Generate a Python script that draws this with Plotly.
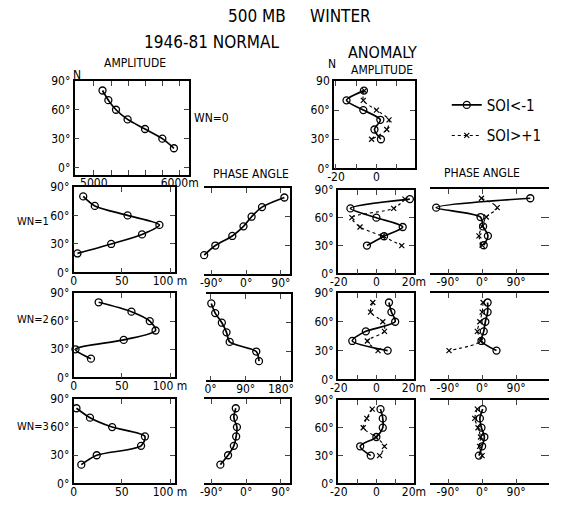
import plotly.graph_objects as go

W, H = 561, 507

# ---------------- data ----------------
lat = [80, 70, 60, 50, 40, 30, 20]
lat_a = [80, 70, 60, 50, 40, 30]

# 1946-81 normal
n0_amp = [5101, 5169, 5258, 5393, 5596, 5798, 5933]
n1_amp = [10, 22, 56, 89, 71, 39, 4]
n1_phase = [99, 41, 14, -7, -36, -80, -109]
n2_amp = [26, 60, 79, 85, 52, 2, 18]
n2_phase = [2, 12, 29, 41, 49, 117, 124]
n3_amp = [3, 17, 40, 74, 70, 24, 8]
n3_phase = [-27, -32, -24, -26, -32, -47, -67]

# anomaly  (neg: SOI<-1, pos: SOI>+1)
a0_amp_neg = [-6.2, -14.8, -6.5, 1.9, -1, 2.2]
a0_amp_pos = [-6, -6.5, 0, 6.2, 5.1, -2.4]
a1_amp_neg = [17.8, -13.8, 0, 14, 4.1, -5]
a1_amp_pos = [15.2, 9.2, -13, -8.7, 3.2, 13.5]
a1_phase_neg = [127.5, -121.6, -4.3, 2.5, 15.3, 4.2]
a1_phase_pos = [-1.8, 40, 11, 0, -8.5, 0]
a2_amp_neg = [6.7, 8, 10, -5.6, -12.8, 6]
a2_amp_pos = [-1.9, -3.1, 3.4, 4.3, -4.8, 0.9]
a2_phase_neg = [14.5, 14.5, 8.5, 4.2, -1.8, 38]
a2_phase_pos = [2.5, 0, -6, -12.7, -4.3, -87.7]
a3_amp_neg = [2.2, 3.4, 3.4, 0, -8.6, -3]
a3_amp_pos = [-2.2, -5.1, -7, -0.3, 4.3, 1.7]
a3_phase_neg = [1.5, -6, -1.8, 5.9, 0, -8.5]
a3_phase_pos = [-12.7, -19.6, -11, -4.3, -6.8, 0]

lat_ticks = [0, 30, 60, 90]
lat_labels = ["0°", "30°", "60°", "90°"]
lat_labels_a0 = ["0°", "30°", "60°", "90"]
amp_ticks = [0, 50, 100]
amp_labels = ["0", "50", "100 m"]
hgt_ticks = [5000, 5200, 5400, 5600, 5800, 6000]
hgt_labels = ["5000", "", "", "", "", "6000m"]
anom_ticks = [-20, -10, 0, 10, 20]
anom_labels = ["-20", "", "0", "", "20m"]
ph_ticks = [-90, 0, 90]
ph_labels = ["-90°", "0°", "90°"]
ph2_ticks = [0, 90, 180]
ph2_labels = ["0°", "90°", "180°"]

FONT = "Liberation Sans Narrow, DejaVu Sans Condensed, Liberation Sans, sans-serif"

fig = go.Figure()

# panel boxes in pixels: (left, right, top, bottom)
panels = [
    ("n0a", (69, 188, 76, 173), [4775, 6112], [-8, 90], "amp", hgt_ticks, hgt_labels, lat_labels),
    ("a0a", (338, 422, 76, 166), [-21, 19], [0, 90], "amp", anom_ticks, anom_labels, lat_labels_a0),
    ("n1a", (68, 173, 185, 273), [0, 105], [0, 90], "amp", amp_ticks, amp_labels, lat_labels),
    ("n1p", (203, 292, 186, 275), [-110, 112.5], [0, 90], "nph", ph_ticks, ph_labels, None),
    ("a1a", (342, 421, 188, 274), [-20.5, 20], [0, 90], "amp", anom_ticks, anom_labels, lat_labels),
    ("a1p", (438, 561, 187, 274), [-137, 177], [0, 90], "aph", ph_ticks, ph_labels, None),
    ("n2a", (68, 173, 294, 381), [0, 105], [0, 90], "amp", amp_ticks, amp_labels, lat_labels),
    ("n2p", (205, 293, 295, 384), [-12.3, 204.7], [0, 90], "nph", ph2_ticks, ph2_labels, None),
    ("a2a", (342, 421, 294, 383), [-20.5, 20], [0, 90], "amp", anom_ticks, anom_labels, lat_labels),
    ("a2p", (438, 561, 294, 383), [-137, 177], [0, 90], "aph", ph_ticks, ph_labels, None),
    ("n3a", (68, 173, 403, 490), [0, 105], [0, 90], "amp", amp_ticks, amp_labels, lat_labels),
    ("n3p", (203, 292, 403, 490), [-110, 112.5], [0, 90], "nph", ph_ticks, ph_labels, None),
    ("a3a", (342, 421, 404, 490), [-20.5, 20], [0, 90], "amp", anom_ticks, anom_labels, lat_labels),
    ("a3p", (438, 561, 404, 490), [-137, 177], [0, 90], "aph", ph_ticks, ph_labels, None),
]

axref = {}
for i, (name, box, xr, yr, kind, xt, xl, yl) in enumerate(panels):
    n = i + 1
    xa = "xaxis" if n == 1 else f"xaxis{n}"
    ya = "yaxis" if n == 1 else f"yaxis{n}"
    l, r, t, b = box
    xdom = [l / W, min(r / W, 1.0)]
    ydom = [(H - b) / H, (H - t) / H]
    xaxis = dict(domain=xdom, range=xr, anchor=f"y{n}" if n > 1 else "y",
                 tickvals=xt, ticktext=xl, ticks="inside", ticklen=5, tickwidth=1.3,
                 ticklabelstandoff=-4,
                 showline=True, linecolor="black", linewidth=1.6, mirror="ticks",
                 showgrid=False, zeroline=False,
                 tickfont=dict(size=12, color="black", family=FONT))
    if kind == "amp":
        yaxis = dict(domain=ydom, range=yr, anchor=f"x{n}" if n > 1 else "x",
                     tickvals=lat_ticks, ticktext=yl, ticks="inside", ticklen=5, tickwidth=1.3,
                     showline=True, linecolor="black", linewidth=1.6, mirror="ticks",
                     showgrid=False, zeroline=False,
                     tickfont=dict(size=12, color="black", family=FONT))
    elif kind == "nph":
        yaxis = dict(domain=ydom, range=yr, anchor=f"x{n}", side="right",
                     tickvals=[30, 60], ticks="inside", ticklen=5, tickwidth=1.3,
                     showticklabels=False,
                     showline=True, linecolor="black", linewidth=1.6, mirror=False,
                     showgrid=False, zeroline=False)
    else:
        yaxis = dict(domain=ydom, range=yr, anchor=f"x{n}", side="right",
                     tickvals=[30, 60], ticks="inside", ticklen=8, tickwidth=1.3,
                     showticklabels=False, showline=False,
                     showgrid=False, zeroline=False)
    fig.layout[xa] = xaxis
    fig.layout[ya] = yaxis
    axref[name] = ("x" if n == 1 else f"x{n}", "y" if n == 1 else f"y{n}")

LW = 1.7
circ = dict(symbol="circle-open", size=7, color="black", line=dict(width=1.3, color="black"))
xm = dict(symbol="x-thin", size=5, color="black", line=dict(width=1.2, color="black"))


def normal(name, xs):
    xa, ya = axref[name]
    fig.add_trace(go.Scatter(x=xs, y=lat, xaxis=xa, yaxis=ya, mode="lines+markers",
                             line=dict(color="black", width=LW, shape="spline", smoothing=0.8),
                             marker=circ, showlegend=False, cliponaxis=False))


def anomaly(name, neg, pos, legend=False):
    xa, ya = axref[name]
    fig.add_trace(go.Scatter(x=pos, y=lat_a, xaxis=xa, yaxis=ya, mode="lines+markers",
                             name="SOI>+1", legendgroup="b", legendrank=2,
                             line=dict(color="black", width=1.1, dash="dot", shape="spline", smoothing=0.8),
                             marker=xm, showlegend=legend, cliponaxis=False))
    fig.add_trace(go.Scatter(x=neg, y=lat_a, xaxis=xa, yaxis=ya, mode="lines+markers",
                             name="SOI<-1", legendgroup="a", legendrank=1,
                             line=dict(color="black", width=LW, shape="spline", smoothing=0.8),
                             marker=circ, showlegend=legend, cliponaxis=False))


normal("n0a", n0_amp)
normal("n1a", n1_amp)
normal("n1p", n1_phase)
normal("n2a", n2_amp)
normal("n2p", n2_phase)
normal("n3a", n3_amp)
normal("n3p", n3_phase)
anomaly("a0a", a0_amp_neg, a0_amp_pos, legend=True)
anomaly("a1a", a1_amp_neg, a1_amp_pos)
anomaly("a1p", a1_phase_neg, a1_phase_pos)
anomaly("a2a", a2_amp_neg, a2_amp_pos)
anomaly("a2p", a2_phase_neg, a2_phase_pos)
anomaly("a3a", a3_amp_neg, a3_amp_pos)
anomaly("a3p", a3_phase_neg, a3_phase_pos)


def txt(s, px, py, size=13, anchor="center"):
    fig.add_annotation(text=s, x=px / W, y=1 - py / H, xref="paper", yref="paper",
                       showarrow=False, xanchor=anchor, yanchor="middle", borderpad=0,
                       font=dict(size=size, color="black", family=FONT))


txt("500 MB&nbsp;&nbsp;&nbsp;&nbsp;&nbsp;WINTER", 302, 9, 17)
txt("1946-81 NORMAL", 212, 36, 17)
txt("ANOMALY", 388, 47, 16)
txt("AMPLITUDE", 132, 58, 12)
txt("AMPLITUDE", 388, 65, 12)
txt("N", 72, 70, 12)
txt("N", 336, 59, 12)
txt("PHASE ANGLE", 252, 172, 12)
txt("PHASE ANGLE", 492, 171, 12)
txt("WN=0", 192, 114, 12, "left")
txt("WN=1", 8, 221, 11, "left")
txt("WN=2", 8, 321, 11, "left")
txt("WN=3", 8, 431, 11, "left")

fig.update_layout(
    width=W, height=H, margin=dict(l=0, r=0, t=0, b=0), autosize=False,
    paper_bgcolor="white", plot_bgcolor="rgba(0,0,0,0)",
    font=dict(family=FONT, color="black"),
    showlegend=True,
    legend=dict(x=455 / W, y=1 - 84 / H, xanchor="left", yanchor="top",
                font=dict(size=15, color="black", family=FONT),
                bgcolor="rgba(0,0,0,0)", traceorder="grouped", tracegroupgap=8,
                itemwidth=30),
)

fig.write_html("out.html",
               config=dict(displayModeBar=False, responsive=False),
               post_script="document.documentElement.style.overflow='hidden';"
                           "document.body.style.margin='0';document.body.style.overflow='hidden';")
